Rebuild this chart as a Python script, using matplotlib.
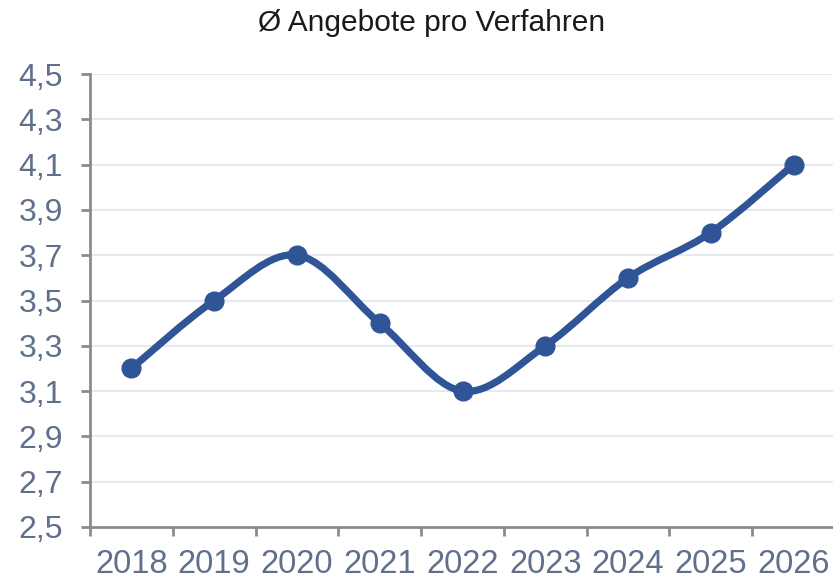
import numpy as np
import matplotlib.pyplot as plt
from matplotlib.path import Path
from matplotlib.patches import PathPatch

# Daten
jahre = ['2018', '2019', '2020', '2021', '2022', '2023', '2024', '2025', '2026']
angebote = [3.2, 3.5, 3.7, 3.4, 3.1, 3.3, 3.6, 3.8, 4.1]
y_ticks = [2.5, 2.7, 2.9, 3.1, 3.3, 3.5, 3.7, 3.9, 4.1, 4.3, 4.5]
y_labels = [f'{v:.1f}'.replace('.', ',') for v in y_ticks]

linie = '#2f5597'
text_farbe = '#5f6f8c'
achse = '#8c8c8c'

plt.rcParams['font.family'] = ['Liberation Sans', 'DejaVu Sans']

fig = plt.figure(figsize=(8.33, 5.8), dpi=100)
ax = fig.add_axes([90 / 833, 1 - 527 / 580, 745 / 833, (527 - 74) / 580])

# geglaettete Linie (Catmull-Rom als Bezier-Kurve, wie Excel)
x = np.arange(len(jahre), dtype=float)
y = np.array(angebote)
pts = np.column_stack([x, y])
verts = [pts[0]]
codes = [Path.MOVETO]
for i in range(len(pts) - 1):
    p0 = pts[i - 1] if i > 0 else pts[i]
    p1 = pts[i]
    p2 = pts[i + 1]
    p3 = pts[i + 2] if i + 2 < len(pts) else pts[i + 1]
    verts += [p1 + (p2 - p0) / 6, p2 - (p3 - p1) / 6, p2]
    codes += [Path.CURVE4] * 3
ax.add_patch(PathPatch(Path(verts, codes), facecolor='none', edgecolor=linie,
                       lw=5.2, capstyle='round', joinstyle='round', zorder=3))
ax.plot(x, y, 'o', color=linie, markersize=13.5, zorder=4)

ax.set_xlim(-0.5, len(jahre) - 0.5)
ax.set_ylim(2.5, 4.5)

ax.set_yticks(y_ticks)
ax.set_yticklabels(y_labels)
ax.set_xticks(np.arange(len(jahre) + 1) - 0.5)
ax.set_xticklabels([])
ax.set_xticks(x, minor=True)
ax.set_xticklabels(jahre, minor=True)

ax.grid(axis='y', color='#e3e8f1', lw=1.3)
ax.set_axisbelow(True)
for s in ['top', 'right']:
    ax.spines[s].set_visible(False)
for s in ['left', 'bottom']:
    ax.spines[s].set_color(achse)
    ax.spines[s].set_linewidth(2)

ax.tick_params(axis='y', which='major', direction='out', length=6.5, width=2,
               color=achse, labelsize=23, labelcolor=text_farbe, pad=13)
ax.tick_params(axis='x', which='major', direction='out', length=6.5, width=2,
               color=achse)
ax.tick_params(axis='x', which='minor', length=0, labelsize=23.5,
               labelcolor=text_farbe, pad=16)

fig.text(432 / 833, 1 - 23 / 580, 'Ø Angebote pro Verfahren', ha='center',
         va='center', fontsize=21.5, color='#1a1a1a')

plt.savefig('out.png', dpi=100)
